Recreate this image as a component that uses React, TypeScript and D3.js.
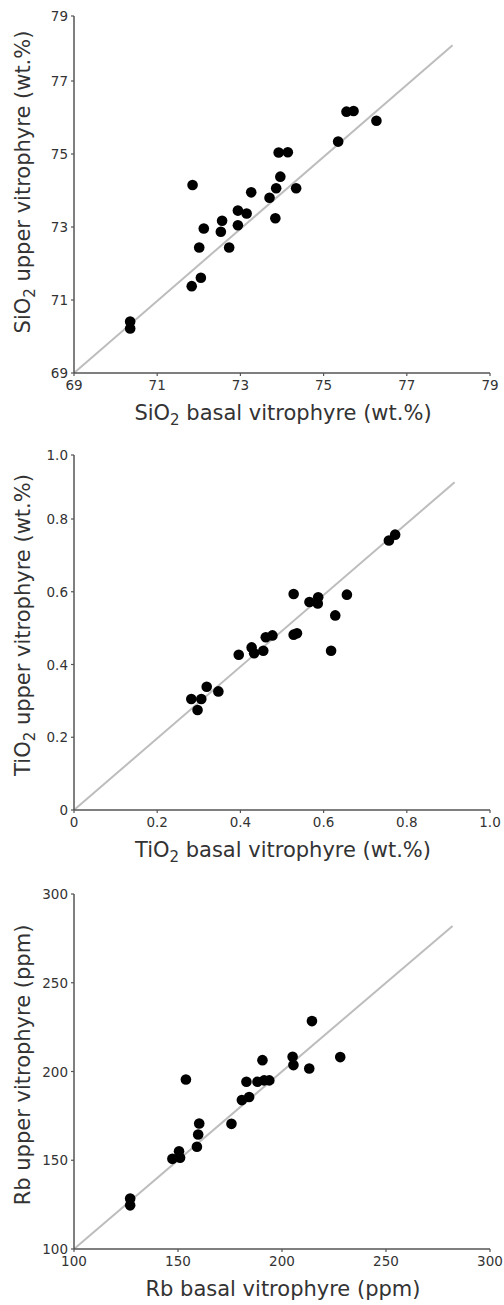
import React from 'react';
import * as d3 from 'd3';

// ---- Data ----
const sio2Basal = [76.27, 75.55, 75.72, 75.35, 73.92, 74.14, 73.96, 73.86, 74.34, 71.85, 73.26, 73.70, 72.94, 73.15, 72.56, 73.84, 72.12, 72.53, 72.94, 72.01, 72.73, 72.05, 71.83, 70.35, 70.35];
const sio2Upper = [75.91, 76.16, 76.18, 75.34, 75.04, 75.05, 74.38, 74.06, 74.06, 74.15, 73.95, 73.80, 73.45, 73.37, 73.17, 73.24, 72.96, 72.87, 73.05, 72.44, 72.44, 71.61, 71.38, 70.41, 70.22];

const tio2Basal = [0.757, 0.772, 0.528, 0.566, 0.587, 0.586, 0.656, 0.628, 0.461, 0.477, 0.528, 0.536, 0.618, 0.427, 0.433, 0.455, 0.396, 0.282, 0.306, 0.297, 0.319, 0.347];
const tio2Upper = [0.741, 0.757, 0.594, 0.572, 0.585, 0.568, 0.592, 0.535, 0.475, 0.480, 0.482, 0.486, 0.438, 0.447, 0.431, 0.438, 0.427, 0.305, 0.305, 0.275, 0.339, 0.326];

const rbBasal = [214.4, 228.0, 205.1, 205.5, 213.1, 190.6, 153.8, 182.9, 188.2, 191.4, 193.9, 180.7, 184.2, 175.7, 160.2, 159.7, 159.1, 147.3, 151.0, 150.5, 127.0, 127.0];
const rbUpper = [228.4, 208.1, 208.3, 203.6, 201.7, 206.4, 195.5, 194.2, 194.2, 195.0, 195.0, 183.9, 185.6, 170.5, 170.7, 164.5, 157.6, 150.8, 151.4, 155.1, 128.4, 124.6];

const sio2Ticks = [69, 71, 73, 75, 77, 79];
const tio2Ticks = [0, 0.2, 0.4, 0.6, 0.8, 1.0];
const tio2TickLabels = ['0', '0.2', '0.4', '0.6', '0.8', '1.0'];
const rbTicks = [100, 150, 200, 250, 300];

// 1:1 reference line extents [start, end]
const sio2Line = [69, 78.1];
const tio2Line = [0, 0.915];
const rbLine = [100, 282];

const FONT = '"DejaVu Sans", Verdana, sans-serif';
const AXIS = '#555';
const TXT = '#333';

type PanelProps = {
  xs: number[];
  ys: number[];
  xScale: d3.ScaleLinear<number, number>;
  yScale: d3.ScaleLinear<number, number>;
  ticks: number[];
  tickLabels: string[];
  line: number[];
  elem: string;
  xTitleRest: string;
  yTitleRest: string;
  yTitleCenter: number;
};

function Title({ x, y, elem, rest, rotate }: { x: number; y: number; elem: string; rest: string; rotate?: boolean }) {
  const hasSub = elem.endsWith('2');
  const base = hasSub ? elem.slice(0, -1) : elem;
  return (
    <text
      x={x}
      y={y}
      textAnchor="middle"
      fontFamily={FONT}
      fontSize={21}
      fill={TXT}
      transform={rotate ? `rotate(-90 ${x} ${y})` : undefined}
    >
      {base}
      {hasSub ? (
        <>
          <tspan fontSize={15} dy={5}>2</tspan>
          <tspan dy={-5}>{rest}</tspan>
        </>
      ) : (
        <tspan>{rest}</tspan>
      )}
    </text>
  );
}

function Panel(p: PanelProps) {
  const { xScale, yScale, ticks, tickLabels } = p;
  const [x0, x1] = xScale.range();
  const yr = yScale.range();
  const yBottom = yr[0];
  const yTop = yr[yr.length - 1];
  const lineGen = d3.line<number>().x((d) => xScale(d)).y((d) => yScale(d));
  return (
    <g>
      {/* 1:1 line */}
      <path d={lineGen(p.line) || ''} stroke="#bdbdbd" strokeWidth={2} fill="none" />
      {/* axes */}
      <line x1={x0} x2={x1} y1={yBottom} y2={yBottom} stroke={AXIS} strokeWidth={1.5} />
      <line x1={x0} x2={x0} y1={yTop} y2={yBottom} stroke={AXIS} strokeWidth={1.5} />
      {ticks.map((t, i) => (
        <g key={'x' + i}>
          <line x1={xScale(t)} x2={xScale(t)} y1={yBottom} y2={yBottom + 3} stroke={AXIS} strokeWidth={1.2} />
          <text x={xScale(t)} y={yBottom + 17} textAnchor="middle" fontFamily={FONT} fontSize={13.5} fill={TXT}>
            {tickLabels[i]}
          </text>
        </g>
      ))}
      {ticks.map((t, i) => (
        <g key={'y' + i}>
          <line x1={x0 - 3} x2={x0} y1={yScale(t)} y2={yScale(t)} stroke={AXIS} strokeWidth={1.2} />
          <text x={x0 - 6} y={yScale(t) + 5} textAnchor="end" fontFamily={FONT} fontSize={13.5} fill={TXT}>
            {tickLabels[i]}
          </text>
        </g>
      ))}
      {/* points */}
      {p.xs.map((v, i) => (
        <circle key={i} cx={xScale(v)} cy={yScale(p.ys[i])} r={5.3} fill="#000" />
      ))}
      <Title x={283} y={yBottom + 47} elem={p.elem} rest={p.xTitleRest} />
      <Title x={30} y={p.yTitleCenter} elem={p.elem} rest={p.yTitleRest} rotate />
    </g>
  );
}

export default function App() {
  const xS1 = d3.scaleLinear().domain([69, 79]).range([74, 490]);
  const yS1 = d3.scaleLinear().domain([69, 77, 79]).range([373, 81, 16]);
  const xS2 = d3.scaleLinear().domain([0, 1]).range([74, 490]);
  const yS2 = d3.scaleLinear().domain([0, 0.8, 1.0]).range([810, 519, 455]);
  const xS3 = d3.scaleLinear().domain([100, 300]).range([74, 490]);
  const yS3 = d3.scaleLinear().domain([100, 300]).range([1249, 894]);

  return (
    <svg
      width={504}
      height={1305}
      style={{ position: 'absolute', left: 0, top: 0, background: '#fff' }}
    >
      <rect width={504} height={1305} fill="#fff" />
      <Panel
        xs={sio2Basal}
        ys={sio2Upper}
        xScale={xS1}
        yScale={yS1}
        ticks={sio2Ticks}
        tickLabels={sio2Ticks.map((d) => String(d))}
        line={sio2Line}
        elem="SiO2"
        xTitleRest=" basal vitrophyre (wt.%)"
        yTitleRest=" upper vitrophyre (wt.%)"
        yTitleCenter={182}
      />
      <Panel
        xs={tio2Basal}
        ys={tio2Upper}
        xScale={xS2}
        yScale={yS2}
        ticks={tio2Ticks}
        tickLabels={tio2TickLabels}
        line={tio2Line}
        elem="TiO2"
        xTitleRest=" basal vitrophyre (wt.%)"
        yTitleRest=" upper vitrophyre (wt.%)"
        yTitleCenter={625}
      />
      <Panel
        xs={rbBasal}
        ys={rbUpper}
        xScale={xS3}
        yScale={yS3}
        ticks={rbTicks}
        tickLabels={rbTicks.map((d) => String(d))}
        line={rbLine}
        elem="Rb"
        xTitleRest=" basal vitrophyre (ppm)"
        yTitleRest=" upper vitrophyre (ppm)"
        yTitleCenter={1065}
      />
    </svg>
  );
}
